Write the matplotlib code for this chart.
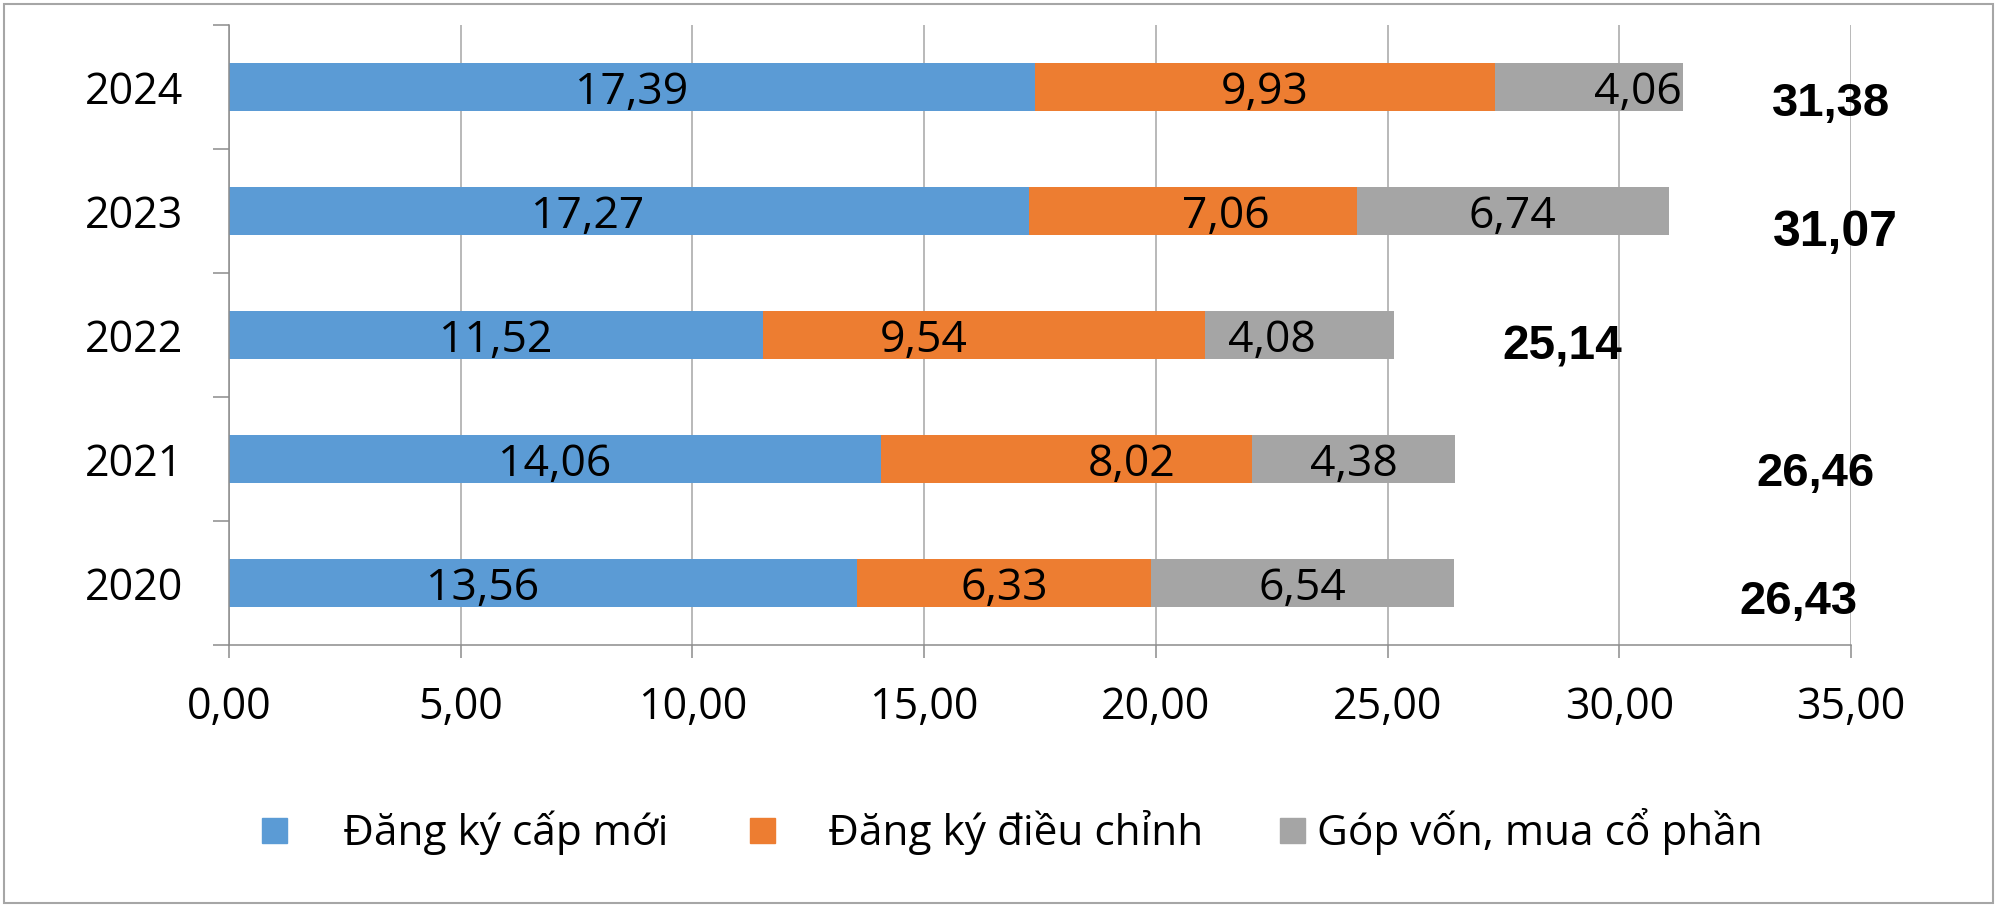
import matplotlib
matplotlib.use('Agg')
import matplotlib.pyplot as plt
from matplotlib.patches import Rectangle
import numpy as np

plt.rcParams['font.family'] = ['Open Sans', 'DejaVu Sans']

# data (bottom to top)
years = ['2020', '2021', '2022', '2023', '2024']
new_reg = [13.56, 14.06, 11.52, 17.27, 17.39]
adj_reg = [6.33, 8.02, 9.54, 7.06, 9.93]
capital = [6.54, 4.38, 4.08, 6.74, 4.06]
totals = [26.43, 26.46, 25.14, 31.07, 31.38]
series_names = ['Đăng ký cấp mới', 'Đăng ký điều chỉnh', 'Góp vốn, mua cổ phần']
xticks = [0, 5, 10, 15, 20, 25, 30, 35]

colors = ['#5B9BD5', '#ED7D31', '#A5A5A5']
grid_c = '#A6A6A6'

# hand placed labels in the original (data units)
label_nudge = [[-1.3, 0, 0], [0, 1.4, 0], [0, -1.3, -0.6], [-0.9, 0.7, 0], [0, 0, 1.05]]
total_x = [33.87, 34.23, 28.77, 34.66, 34.56]
total_dy = [0.113, 0.081, 0.056, 0.137, 0.097]
total_size = [34, 34, 34.5, 36, 34]

W, H = 2000, 911
fig = plt.figure(figsize=(W / 100, H / 100), dpi=100)
ax = fig.add_axes([229 / W, 1 - 645 / H, (1851 - 229) / W, (645 - 25) / H])

y = np.arange(len(years))
left = np.zeros(len(years))
for k, vals in enumerate([new_reg, adj_reg, capital]):
    vals = np.array(vals)
    ax.barh(y, vals, left=left, height=0.39, color=colors[k], zorder=2)
    for i, v in enumerate(vals):
        ax.text(left[i] + v / 2 + label_nudge[i][k], y[i],
                '{:.2f}'.format(v).replace('.', ','),
                ha='center', va='center_baseline', fontsize=32, zorder=3)
    left = left + vals

for i, t in enumerate(totals):
    ax.text(total_x[i], y[i] - total_dy[i], '{:.2f}'.format(t).replace('.', ','),
            ha='center', va='center_baseline', fontsize=total_size[i],
            fontweight='bold', family='Liberation Sans', clip_on=False)

ax.set_xlim(0, 35)
ax.set_ylim(-0.5, len(years) - 0.5)
ax.set_xticks(xticks)
ax.set_xticklabels(['{:.2f}'.format(v).replace('.', ',') for v in xticks])
ax.set_yticks(y)
ax.set_yticklabels(years)
ax.set_yticks(np.arange(-0.5, len(years)), minor=True)

ax.grid(axis='x', color=grid_c, lw=1.1, zorder=0)
ax.set_axisbelow(True)
for s in ['top', 'right']:
    ax.spines[s].set_visible(False)
for s in ['left', 'bottom']:
    ax.spines[s].set_color('#8C8C8C')
    ax.spines[s].set_linewidth(1.1)

ax.tick_params(axis='x', length=9.4, width=1.1, color='#8C8C8C', pad=20, labelsize=31)
ax.tick_params(axis='y', which='major', length=0, pad=33, labelsize=31)
ax.tick_params(axis='y', which='minor', length=11.5, width=1.1, color='#8C8C8C')

# legend, placed by hand like the original
leg_box = [(262, 818), (750, 818), (1280, 818)]
leg_text = [343, 828, 1317]
for k in range(3):
    bx, by = leg_box[k]
    fig.add_artist(Rectangle((bx / W, 1 - (by + 25) / H), 25 / W, 25 / H,
                             transform=fig.transFigure, color=colors[k]))
    fig.text(leg_text[k] / W, 1 - 845 / H, series_names[k], fontsize=30.5,
             ha='left', va='baseline')

# outer frame
fig.add_artist(Rectangle((4 / W, 1 - 903 / H), 1989 / W, 899 / H,
                         transform=fig.transFigure, fill=False,
                         edgecolor='#A6A6A6', lw=1.5))

fig.savefig('out.png', dpi=100, facecolor='white')
